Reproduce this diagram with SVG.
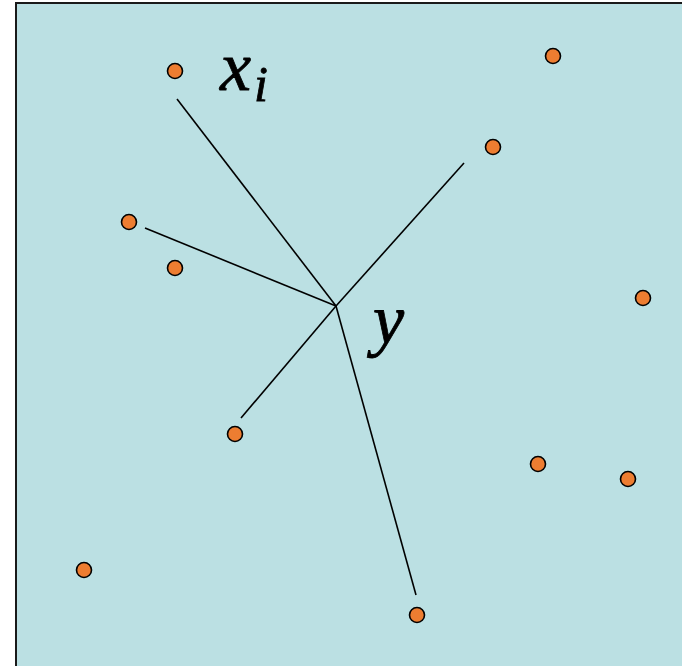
<svg xmlns="http://www.w3.org/2000/svg" width="682" height="666" viewBox="0 0 682 666">
<style>
.pt{fill:#ED7D31;stroke:#000;stroke-width:1.6}
.ln{stroke:#000;stroke-width:1.6;fill:none}
.lbl{font-family:"Liberation Serif",serif;font-style:italic;fill:#000;stroke:#000;stroke-width:0.8}
</style>
<rect x="16" y="3" width="680" height="680" fill="#BBE0E3" stroke="#1a1a1a" stroke-width="2"/>
<g id="connectors">
<line class="ln" x1="336" y1="306" x2="177" y2="99"/>
<line class="ln" x1="336" y1="306" x2="145" y2="228"/>
<line class="ln" x1="336" y1="306" x2="464" y2="163"/>
<line class="ln" x1="336" y1="306" x2="241" y2="418"/>
<line class="ln" x1="336" y1="306" x2="416" y2="595"/>
</g>
<g id="p1"><circle class="pt" cx="175" cy="71" r="7.5"/></g>
<g id="p2"><circle class="pt" cx="553" cy="56" r="7.5"/></g>
<g id="p3"><circle class="pt" cx="493" cy="147" r="7.5"/></g>
<g id="p4"><circle class="pt" cx="129" cy="222" r="7.5"/></g>
<g id="p5"><circle class="pt" cx="175" cy="268" r="7.5"/></g>
<g id="p6"><circle class="pt" cx="643" cy="298" r="7.5"/></g>
<g id="p7"><circle class="pt" cx="235" cy="434" r="7.5"/></g>
<g id="p8"><circle class="pt" cx="538" cy="464" r="7.5"/></g>
<g id="p9"><circle class="pt" cx="628" cy="479" r="7.5"/></g>
<g id="p10"><circle class="pt" cx="84" cy="570" r="7.5"/></g>
<g id="p11"><circle class="pt" cx="417" cy="615" r="7.5"/></g>
<g id="label-xi"><text class="lbl" x="220" y="90" font-size="70">x<tspan font-size="50" dx="3" dy="11">i</tspan></text></g>
<g id="label-y"><text class="lbl" x="373" y="343" font-size="70">y</text></g>
</svg>
